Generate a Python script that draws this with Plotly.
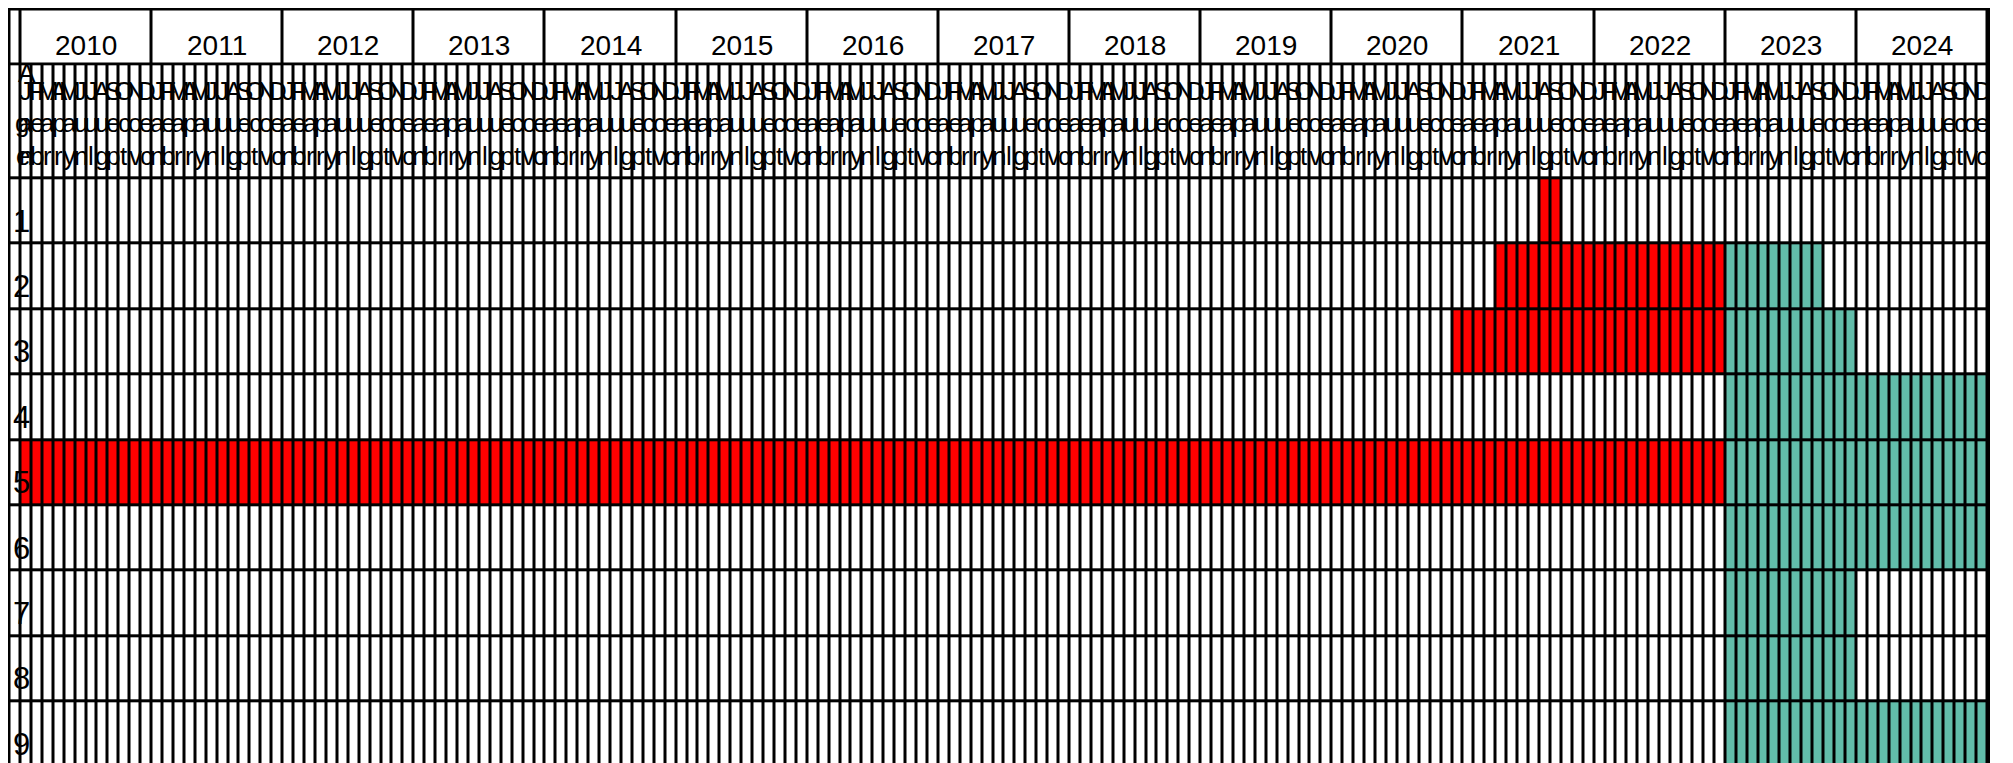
import plotly.graph_objects as go

# ---------------- data ----------------
years = list(range(2010, 2025))
month_abbr = ["Jan", "Feb", "Mar", "Apr", "May", "Jun",
              "Jul", "Aug", "Sep", "Oct", "Nov", "Dec"]
row_labels = ["1", "2", "3", "4", "5", "6", "7", "8", "9"]
corner_label = "Age"

# inclusive month spans per row ("YYYY-MM"), None = no span
red_start = ["2021-08", "2021-04", "2020-12", None, "2010-01", None, None, None, None]
red_end = ["2021-09", "2022-12", "2022-12", None, "2022-12", None, None, None, None]
teal_start = [None, "2023-01", "2023-01", "2023-01", "2023-01", "2023-01", "2023-01", "2023-01", "2023-01"]
teal_end = [None, "2023-09", "2023-12", "2024-12", "2024-12", "2024-12", "2023-12", "2023-12", "2024-12"]

# --------------- styles ---------------
WHITE = "#FFFFFF"
RED = "#FF0000"
TEAL = "#62BDAA"
LINE = "#000000"
FONT = "Arial, Liberation Sans, sans-serif"

# geometry in figure pixels (the page adds its own 8px body margin)
FIG_W, FIG_H = 1982, 762
GRID_L, GRID_R = 1.5, 1979.5          # outer grid cell edges
TOP_PX, YEAR_BOT_PX, MONTH_BOT_PX, ROW_PX = 1.5, 56.3, 170.3, 65.4
GAP = 3
MONTH_FS = 26
LETTER_BASELINES = [92, 124.5, 157]   # baselines of the stacked letters
CORNER_BASELINES = [74, 124.5, 157]

n_months = len(years) * 12
n_cols = n_months + 1
pitch = (GRID_R - GRID_L) / n_cols


def px2x(p):
    return -1 + (p - GRID_L) / pitch


def px2y(p):
    return (p - MONTH_BOT_PX) / ROW_PX


def month_index(s):
    y, m = s.split("-")
    return (int(y) - years[0]) * 12 + int(m) - 1


# cell values: 0 = empty, 1 = red, 2 = teal ; first column is the label column
z_rows = []
for i in range(len(row_labels)):
    row = [0] * n_cols
    for start, end, val in ((red_start[i], red_end[i], 1), (teal_start[i], teal_end[i], 2)):
        if start is not None:
            for c in range(month_index(start), month_index(end) + 1):
                row[c + 1] = val
    z_rows.append(row)

col_edges = list(range(-1, n_months + 1))
year_edges = [-1] + [12 * i for i in range(len(years) + 1)]
year_y = [px2y(TOP_PX), px2y(YEAR_BOT_PX)]
month_y = [px2y(YEAR_BOT_PX), 0]
row_edges = list(range(len(row_labels) + 1))

cscale = [[0, WHITE], [0.25, WHITE], [0.25, RED], [0.75, RED], [0.75, TEAL], [1, TEAL]]
common = dict(colorscale=cscale, zmin=0, zmax=2, showscale=False,
              xgap=GAP, ygap=GAP, hoverinfo="skip")

fig = go.Figure()
fig.add_trace(go.Heatmap(x=year_edges, y=year_y, z=[[0] * (len(years) + 1)], **common))
fig.add_trace(go.Heatmap(x=col_edges, y=month_y, z=[[0] * n_cols], **common))
fig.add_trace(go.Heatmap(x=col_edges, y=row_edges, z=z_rows, **common))

ann = []
year_cy = (year_y[0] + year_y[1]) / 2
for i, yr in enumerate(years):
    ann.append(dict(x=12 * i + 6, y=year_cy, yshift=-8.5, text=str(yr), showarrow=False,
                    font=dict(family=FONT, size=28, color="black")))

# stacked (vertical) month names, one letter per line
for c in range(n_months):
    for k, ch in enumerate(month_abbr[c % 12]):
        ann.append(dict(x=c + 0.5, y=px2y(LETTER_BASELINES[k] - 0.35 * MONTH_FS), text=ch,
                        showarrow=False, font=dict(family=FONT, size=MONTH_FS, color="black")))

for i, lab in enumerate(row_labels):
    ann.append(dict(x=-1, y=i + 0.5, xanchor="left", xshift=1, yshift=-10, text=lab,
                    showarrow=False, font=dict(family=FONT, size=31, color="black")))

corner_shift = [6, 3, 4]
for k, ch in enumerate(corner_label):
    ann.append(dict(x=-1, y=px2y(CORNER_BASELINES[k] - 0.35 * MONTH_FS), xanchor="left",
                    xshift=corner_shift[k], text=ch, showarrow=False,
                    font=dict(family=FONT, size=MONTH_FS, color="black")))

fig.update_layout(
    width=FIG_W, height=FIG_H,
    margin=dict(l=0, r=0, t=0, b=0, pad=0),
    paper_bgcolor=WHITE, plot_bgcolor=LINE,
    xaxis=dict(range=[px2x(0), px2x(FIG_W)], visible=False, fixedrange=True),
    yaxis=dict(range=[px2y(FIG_H), px2y(0)], visible=False, fixedrange=True),
    annotations=ann,
    showlegend=False,
)

fig.write_html("out.html")
